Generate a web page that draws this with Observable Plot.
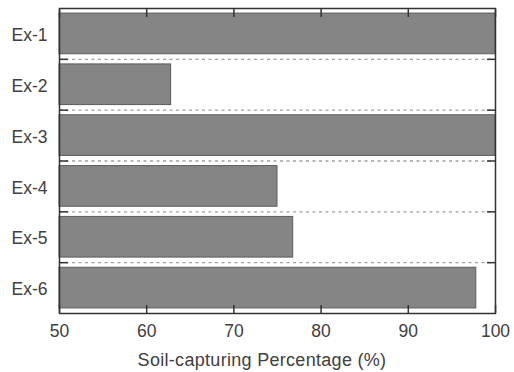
<!DOCTYPE html>
<html><head><meta charset="utf-8">
<script src="https://cdn.jsdelivr.net/npm/d3@7"></script>
<script src="https://cdn.jsdelivr.net/npm/@observablehq/plot@0.6"></script>
<style>body{margin:0;background:#fff}</style>
</head><body><div id="chart"></div>
<script>
const categories = ["Ex-1", "Ex-2", "Ex-3", "Ex-4", "Ex-5", "Ex-6"];
const values = [100, 62.8, 100, 75.0, 76.8, 97.8];
const xTicks = [50, 60, 70, 80, 90, 100];
const xDomain = [50, 100];
const xLabel = "Soil-capturing Percentage (%)";

const data = categories.map((c, i) => ({name: c, idx: i, value: values[i]}));
const boundaries = d3.range(1, categories.length);
const centers = categories.map((c, i) => i + 0.5);
const ink = "#333";
const textColor = "#404040";

const chart = Plot.plot({
  width: 514, height: 372,
  marginTop: 8, marginRight: 19, marginBottom: 59, marginLeft: 59,
  style: {fontFamily: "'Liberation Sans', Arial, sans-serif", fontSize: "17px", color: textColor, background: "#fff"},
  x: {domain: xDomain},
  y: {domain: [0, categories.length], reverse: true},
  marks: [
    Plot.ruleY(boundaries, {stroke: "#a0a0a0", strokeDasharray: "3,3.5", strokeWidth: 1.3}),
    Plot.rect(data, {x1: xDomain[0], x2: "value", y1: d => d.idx + 0.1, y2: d => d.idx + 0.9,
      fill: "#858585", stroke: "#5c5c5c", strokeWidth: 1}),
    Plot.axisY({anchor: "left", ticks: centers, tickSize: 0, tickPadding: 12, fontSize: 17.5, dy: 1.5,
      tickFormat: i => categories[Math.floor(i)], label: null}),
    Plot.axisY({anchor: "left", ticks: boundaries, tickSize: -9, tickFormat: () => "", label: null, stroke: ink, strokeWidth: 1.5}),
    Plot.axisY({anchor: "right", ticks: boundaries, tickSize: -9, tickFormat: () => "", label: null, stroke: ink, strokeWidth: 1.5}),
    Plot.axisX({anchor: "bottom", ticks: xTicks, tickSize: 0, tickPadding: 11, fontSize: 17.5, label: null}),
    Plot.axisX({anchor: "bottom", ticks: xTicks, tickSize: -8, tickFormat: () => "", label: null, stroke: ink, strokeWidth: 1.5}),
    Plot.axisX({anchor: "top", ticks: xTicks, tickSize: -8, tickFormat: () => "", label: null, stroke: ink, strokeWidth: 1.5}),
    Plot.text([xLabel], {frameAnchor: "bottom", dy: 52, dx: -15.5, lineAnchor: "bottom", fontSize: 18,
      fill: textColor, text: d => d}),
    Plot.frame({stroke: ink, strokeWidth: 1.5})
  ]
});
chart.querySelectorAll("text").forEach(t => { if (t.textContent === xLabel) t.style.letterSpacing = "0.3px"; });
document.getElementById("chart").append(chart);
</script>
</body></html>
